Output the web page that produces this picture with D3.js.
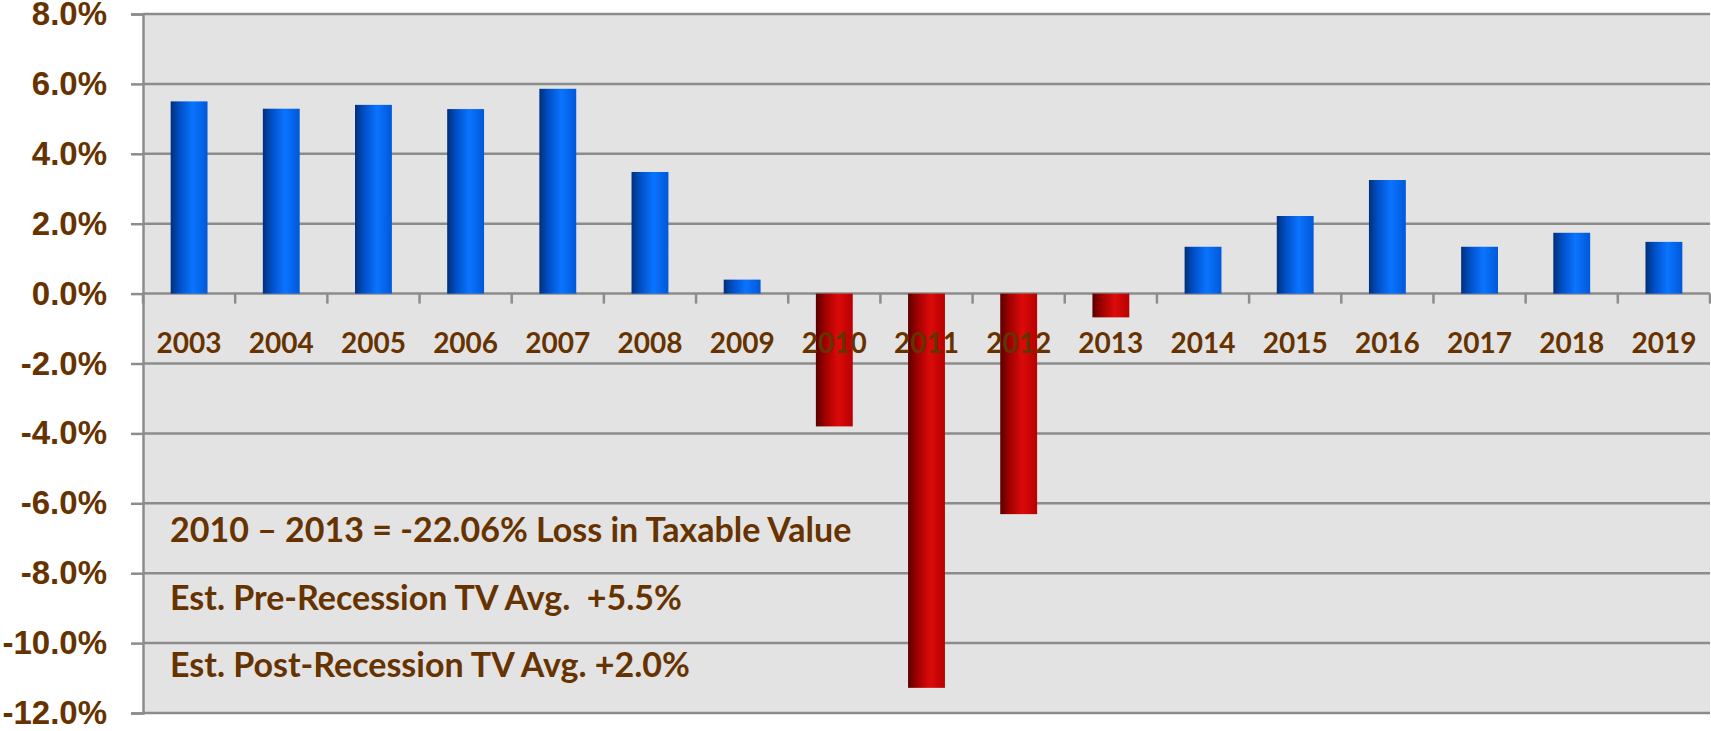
<!DOCTYPE html>
<html>
<head>
<meta charset="utf-8">
<script src="https://cdn.jsdelivr.net/npm/d3@7"></script>
<style>
  html, body { margin: 0; padding: 0; background: #fff; }
  svg { display: block; font-family: Lato, "Open Sans", sans-serif; }
</style>
</head>
<body>
<div id="chart"></div>
<script>
// Data
const years = ['2003', '2004', '2005', '2006', '2007', '2008', '2009', '2010', '2011',
    '2012', '2013', '2014', '2015', '2016', '2017', '2018', '2019'];
const changes = [5.50, 5.29, 5.40, 5.28, 5.86, 3.48, 0.40, -3.80, -11.28,
    -6.31, -0.68, 1.34, 2.22, 3.25, 1.34, 1.74, 1.48];
const yTicks = [8, 6, 4, 2, 0, -2, -4, -6, -8, -10, -12];
const notes = [
    '2010 \u2013 2013 = -22.06% Loss in Taxable Value',
    'Est. Pre-Recession TV Avg.  +5.5%',
    'Est. Post-Recession TV Avg. +2.0%'
];

const data = years.map((y, i) => ({ year: y, value: changes[i] }));

const chart = {
    totalWidth: 1711,
    totalHeight: 731,
    margin: { top: 14, bottom: 18, left: 143, right: 1 }
};
chart.width = chart.totalWidth - chart.margin.left - chart.margin.right;
chart.height = chart.totalHeight - chart.margin.top - chart.margin.bottom;

const textColor = '#663300';
const gridColor = '#8c8c8c';

const svg = d3.select('#chart')
    .append('svg')
    .attr('width', chart.totalWidth)
    .attr('height', chart.totalHeight);

// gradients for the cylinder-looking bars
const defs = svg.append('defs');
function cylinder(id, stops) {
    const grad = defs.append('linearGradient')
        .attr('id', id)
        .attr('x1', 0).attr('x2', 1).attr('y1', 0).attr('y2', 0);
    stops.forEach(s => grad.append('stop').attr('offset', s[0]).attr('stop-color', s[1]));
}
cylinder('blueBar', [[0, '#00307a'], [0.25, '#0050c8'], [0.6, '#0a74ff'], [1, '#0058d8']]);
cylinder('redBar', [[0, '#5a0000'], [0.25, '#a00000'], [0.6, '#dc0a0a'], [1, '#b80000']]);

const xScale = d3.scaleBand()
    .domain(years)
    .range([0, chart.width])
    .paddingInner(0.6)
    .paddingOuter(0.3);

const yScale = d3.scaleLinear()
    .domain([-12, 8])
    .range([chart.height, 0]);

const g = svg.append('g')
    .attr('transform', `translate(${chart.margin.left}, ${chart.margin.top})`);

// plot background
g.append('rect')
    .attr('x', 0).attr('y', 0)
    .attr('width', chart.width)
    .attr('height', chart.height)
    .attr('fill', '#e3e3e3');

// Y-axis with gridlines (plain hyphen for negatives, like the original)
const pct = d => (d < 0 ? '-' : '') + Math.abs(d).toFixed(1) + '%';
const yAxis = d3.axisLeft(yScale)
    .tickValues(yTicks)
    .tickSize(12)
    .tickPadding(24)
    .tickFormat(pct);

const yAxisG = g.append('g')
    .classed('y-axis', true)
    .call(yAxis);
yAxisG.select('.domain').attr('stroke', gridColor).attr('stroke-width', 2.5);
yAxisG.selectAll('.tick line').attr('stroke', gridColor).attr('stroke-width', 2.5);
yAxisG.selectAll('.tick text')
    .attr('fill', textColor)
    .style('font-size', '33px')
    .style('font-weight', 'bold');

g.append('g')
    .classed('grid', true)
    .selectAll('line')
    .data(yTicks)
    .join('line')
    .attr('x1', 0)
    .attr('x2', chart.width)
    .attr('y1', d => yScale(d))
    .attr('y2', d => yScale(d))
    .attr('stroke', gridColor)
    .attr('stroke-width', 2.5);

// bars
g.append('g')
    .classed('bars', true)
    .selectAll('rect')
    .data(data)
    .join('rect')
    .attr('x', d => xScale(d.year))
    .attr('width', xScale.bandwidth())
    .attr('y', d => yScale(Math.max(0, d.value)))
    .attr('height', d => Math.abs(yScale(d.value) - yScale(0)))
    .attr('fill', d => d.value >= 0 ? 'url(#blueBar)' : 'url(#redBar)');

// category ticks on the zero line
const step = xScale.step();
const start = xScale(years[0]) - xScale.paddingOuter() * step;
g.append('g')
    .classed('x-ticks', true)
    .selectAll('line')
    .data(d3.range(years.length + 1))
    .join('line')
    .attr('x1', i => start + i * step)
    .attr('x2', i => start + i * step)
    .attr('y1', yScale(0))
    .attr('y2', yScale(0) + 10)
    .attr('stroke', gridColor)
    .attr('stroke-width', 2.5);

// year labels, drawn over the bars
g.append('g')
    .classed('x-labels', true)
    .selectAll('text')
    .data(years)
    .join('text')
    .attr('x', d => xScale(d) + xScale.bandwidth() / 2)
    .attr('y', yScale(0) + 59)
    .attr('text-anchor', 'middle')
    .attr('fill', textColor)
    .style('font-size', '28px')
    .style('font-weight', 'bold')
    .text(d => d);

// annotation lines
g.append('g')
    .classed('notes', true)
    .selectAll('text')
    .data(notes)
    .join('text')
    .attr('x', 27)
    .attr('y', (d, i) => 528 + i * 67.5)
    .attr('fill', textColor)
    .style('font-size', '34px')
    .style('font-weight', 'bold')
    .style('white-space', 'pre')
    .text(d => d);
</script>
</body>
</html>
